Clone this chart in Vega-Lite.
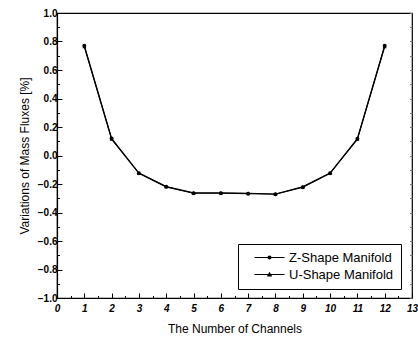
{
  "$schema": "https://vega.github.io/schema/vega-lite/v6.json",
  "width": 355,
  "height": 285,
  "autosize": {"type": "none"},
  "padding": {"left": 57, "top": 13, "right": 6, "bottom": 43},
  "background": "white",
  "config": {
    "font": "Liberation Sans",
    "view": {"stroke": "black", "strokeWidth": 1.2},
    "axis": {"domainColor": "black", "domainWidth": 1.2, "tickColor": "black", "tickWidth": 1, "grid": false, "labelColor": "black", "titleColor": "black"}
  },
  "data": {
    "values": [
      {"channel": 1, "value": 0.77, "series": "Z-Shape Manifold"},
      {"channel": 2, "value": 0.12, "series": "Z-Shape Manifold"},
      {"channel": 3, "value": -0.125, "series": "Z-Shape Manifold"},
      {"channel": 4, "value": -0.22, "series": "Z-Shape Manifold"},
      {"channel": 5, "value": -0.265, "series": "Z-Shape Manifold"},
      {"channel": 6, "value": -0.265, "series": "Z-Shape Manifold"},
      {"channel": 7, "value": -0.268, "series": "Z-Shape Manifold"},
      {"channel": 8, "value": -0.272, "series": "Z-Shape Manifold"},
      {"channel": 9, "value": -0.222, "series": "Z-Shape Manifold"},
      {"channel": 10, "value": -0.125, "series": "Z-Shape Manifold"},
      {"channel": 11, "value": 0.118, "series": "Z-Shape Manifold"},
      {"channel": 12, "value": 0.77, "series": "Z-Shape Manifold"},
      {"channel": 1, "value": 0.765, "series": "U-Shape Manifold"},
      {"channel": 2, "value": 0.115, "series": "U-Shape Manifold"},
      {"channel": 3, "value": -0.123, "series": "U-Shape Manifold"},
      {"channel": 4, "value": -0.218, "series": "U-Shape Manifold"},
      {"channel": 5, "value": -0.262, "series": "U-Shape Manifold"},
      {"channel": 6, "value": -0.262, "series": "U-Shape Manifold"},
      {"channel": 7, "value": -0.265, "series": "U-Shape Manifold"},
      {"channel": 8, "value": -0.27, "series": "U-Shape Manifold"},
      {"channel": 9, "value": -0.22, "series": "U-Shape Manifold"},
      {"channel": 10, "value": -0.123, "series": "U-Shape Manifold"},
      {"channel": 11, "value": 0.115, "series": "U-Shape Manifold"},
      {"channel": 12, "value": 0.765, "series": "U-Shape Manifold"}
    ]
  },
  "resolve": {"axis": {"x": "independent", "y": "independent"}, "scale": {"shape": "independent"}},
  "layer": [
    {
      "mark": {"type": "line", "color": "black", "strokeWidth": 1.2},
      "encoding": {
        "x": {"field": "channel", "type": "quantitative", "scale": {"domain": [0, 13], "nice": false},
          "axis": {"orient": "bottom", "title": null, "labels": false, "domain": false, "tickSize": -2.5,
            "values": [0.5,1.5,2.5,3.5,4.5,5.5,6.5,7.5,8.5,9.5,10.5,11.5,12.5]}},
        "y": {"field": "value", "type": "quantitative", "scale": {"domain": [-1, 1], "nice": false},
          "axis": {"orient": "left", "title": null, "labels": false, "domain": false, "tickSize": -2.5,
            "values": [-0.9,-0.7,-0.5,-0.3,-0.1,0.1,0.3,0.5,0.7,0.9]}},
        "detail": {"field": "series"}
      }
    },
    {
      "mark": {"type": "point", "filled": true, "color": "black", "size": 16, "opacity": 1},
      "encoding": {
        "x": {"field": "channel", "type": "quantitative", "scale": {"domain": [0, 13], "nice": false},
          "axis": {"orient": "bottom", "title": "The Number of Channels", "titleFont": "Liberation Sans", "titleFontSize": 12, "titleFontWeight": "normal", "titlePadding": 10,
            "tickSize": -5, "labelPadding": 10, "labelFontSize": 10, "labelFontWeight": "bold", "labelFontStyle": "italic", "labelFlush": false,
            "values": [0,1,2,3,4,5,6,7,8,9,10,11,12,13], "format": "d"}},
        "y": {"field": "value", "type": "quantitative", "scale": {"domain": [-1, 1], "nice": false},
          "axis": {"orient": "left", "title": "Variations of Mass Fluxes [%]", "titleFont": "Liberation Sans", "titleFontSize": 12, "titleFontWeight": "normal", "titlePadding": 6,
            "tickSize": -5, "labelPadding": 5, "labelFontSize": 10, "labelFontWeight": "bold", "labelFlush": false,
            "values": [-1,-0.8,-0.6,-0.4,-0.2,0,0.2,0.4,0.6,0.8,1], "format": ".1f"}},
        "shape": {"field": "series", "type": "nominal",
          "scale": {"domain": ["Z-Shape Manifold", "U-Shape Manifold"], "range": ["circle", "triangle-up"]},
          "legend": null}
      }
    },
    {
      "transform": [{"filter": "datum.channel > 100"}],
      "mark": {"type": "point", "filled": false, "stroke": "black", "fill": "black", "strokeWidth": 1, "size": 100, "opacity": 1},
      "encoding": {
        "x": {"field": "channel", "type": "quantitative", "scale": {"domain": [0, 13], "nice": false}, "axis": null},
        "y": {"field": "value", "type": "quantitative", "scale": {"domain": [-1, 1], "nice": false},
          "axis": {"orient": "right", "title": null, "labels": false, "domain": false, "tickSize": -2.5, "tickColor": "#777777",
            "values": [-1,-0.9,-0.8,-0.7,-0.6,-0.5,-0.4,-0.3,-0.2,-0.1,0,0.1,0.2,0.3,0.4,0.5,0.6,0.7,0.8,0.9,1]}},
        "shape": {"field": "series", "type": "nominal",
          "scale": {"domain": ["Z-Shape Manifold", "U-Shape Manifold"],
            "range": ["M0.6,-0.11L6.6,-0.11L6.6,0.11L0.6,0.11ZM4,0A0.4,0.4,0,1,1,3.2,0A0.4,0.4,0,1,1,4,0Z", "M0.6,-0.11L6.6,-0.11L6.6,0.11L0.6,0.11ZM3.6,-0.55L4.15,0.4L3.05,0.4Z"]},
          "legend": {"title": null, "orient": "none", "legendX": 181, "legendY": 231,
            "strokeColor": "black", "fillColor": "white", "padding": 7,
            "labelFont": "Liberation Sans", "labelFontSize": 13, "labelColor": "black", "labelOffset": 31,
            "symbolSize": 100, "symbolStrokeColor": "black", "symbolStrokeWidth": 1, "symbolFillColor": "black", "rowPadding": 3}}
      }
    }
  ]
}
